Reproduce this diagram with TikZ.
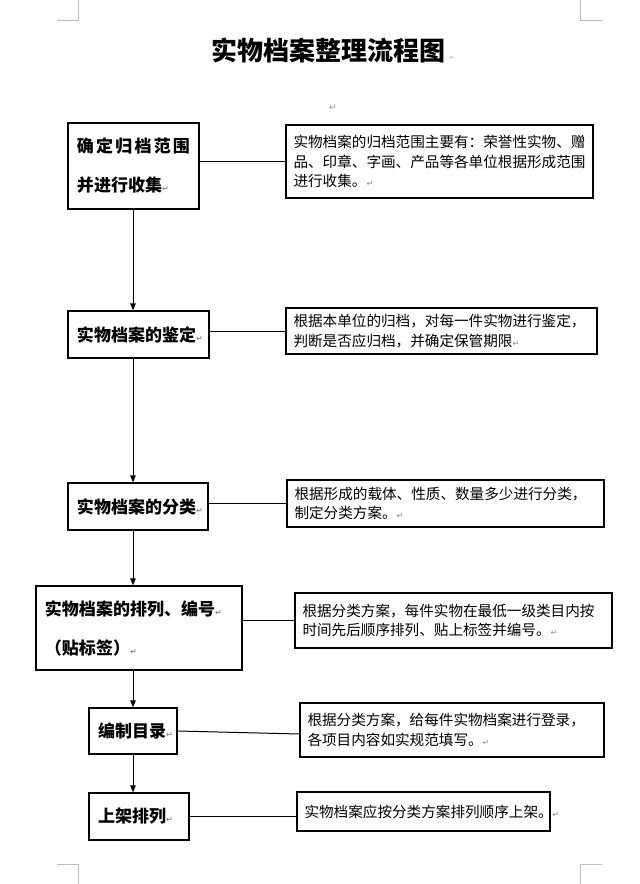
\documentclass[tikz,border=0pt]{standalone}
\usepackage{fontspec}
\newfontfamily\cjk{Noto Sans CJK SC}
\newfontfamily\djv{DejaVu Sans}
\usetikzlibrary{arrows.meta}
\definecolor{pmgray}{HTML}{8C8C8C}
\definecolor{cornergray}{HTML}{BDBDBD}
\newcommand\parmk[1][8bp]{{\djv\fontsize{#1}{#1}\selectfont\textcolor{pmgray}{↵}}}
\begin{document}
\begin{tikzpicture}[x=1bp,y=-1bp,
  lbox/.style={draw=black, line width=1.3bp, inner xsep=9bp, inner ysep=0pt, align=left,
    font=\cjk\bfseries\fontsize{17bp}{39bp}\selectfont},
  tbox/.style={draw=black, line width=1.3bp, inner xsep=7.5bp, inner ysep=0pt, align=left,
    font=\cjk\fontsize{14.6bp}{19.5bp}\selectfont},
  conn/.style={line width=1bp},
  arr/.style={line width=1bp, -{Triangle[length=7bp,width=5.5bp]}},
  corner/.style={draw=cornergray, line width=1bp}]
\useasboundingbox (0,0) rectangle (640,884);
% corner marks
\draw[corner] (57,20) -- (78,20) -- (78,0);
\draw[corner] (580,0) -- (580,20) -- (602,20);
\draw[corner] (57,864) -- (78,864) -- (78,884);
\draw[corner] (580,884) -- (580,864) -- (602,864);
% title
\node[font=\cjk\bfseries\fontsize{26bp}{26bp}\selectfont] (title) at (328,50) {实物档案整理流程图};
\node[inner sep=0pt] (tmark) at (452,58) {\parmk[5bp]};
\node[inner sep=0pt] (pm) at (333,108) {\parmk[9bp]};
% left boxes
\node[lbox, text width=113bp, minimum height=86bp] (b1) at (133.5,166)
  {确\kern2.2bp 定\kern2.2bp 归\kern2.2bp 档\kern2.2bp 范\kern2.2bp 围\\并进行收集\parmk};
\node[lbox, text width=123bp, minimum height=47bp] (b2) at (138.5,334.5) {实物档案的鉴定\parmk};
\node[lbox, text width=122bp, minimum height=47bp] (b3) at (138,506.5) {实物档案的分类\parmk};
\node[lbox, text width=188bp, minimum height=84bp] (b4) at (139,628)
  {实物档案的排列、编号\parmk\\（贴标签）\parmk};
\node[lbox, text width=70bp, minimum height=46bp] (b5) at (133,731) {编制目录\parmk};
\node[lbox, text width=82bp, minimum height=47bp] (b6) at (139,816.5) {上架排列\parmk};
% text boxes
\node[tbox, text width=292bp, minimum height=73bp] (t1) at (439.5,161.5)
  {实物档案的归档范围主要有：荣誉性实物、赠\\品、印章、字画、产品等各单位根据形成范围\\进行收集。\parmk};
\node[tbox, text width=296bp, minimum height=46bp] (t2) at (441.5,331)
  {根据本单位的归档，对每一件实物进行鉴定，\\判断是否应归档，并确定保管期限\parmk};
\node[tbox, text width=302bp, minimum height=47bp] (t3) at (445.5,503.5)
  {根据形成的载体、性质、数量多少进行分类，\\制定分类方案。\parmk};
\node[tbox, text width=302bp, minimum height=55bp] (t4) at (453.5,620.5)
  {根据分类方案，每件实物在最低一级类目内按\\时间先后顺序排列、贴上标签并编号。\parmk};
\node[tbox, text width=289bp, minimum height=54bp] (t5) at (452,730)
  {根据分类方案，给每件实物档案进行登录，\\各项目内容如实规范填写。\parmk};
\node[tbox, text width=238bp, minimum height=39bp] (t6) at (423.5,811.5)
  {实物档案应按分类方案排列顺序上架。\parmk};
% connectors
\draw[conn] (t1.west) -- (t1.west -| b1.east);
\draw[conn] (t2.west) -- (t2.west -| b2.east);
\draw[conn] (t3.west) -- (t3.west -| b3.east);
\draw[conn] (t4.west) -- (t4.west -| b4.east);
\draw[conn] (b5.east) -- ([yshift=-4bp]t5.west);
\draw[conn] (b6.east) -- (b6.east -| t6.west);
% arrows
\coordinate (ax) at (133,0);
\draw[arr] (b1.south -| ax) -- (b2.north -| ax);
\draw[arr] (b2.south -| ax) -- (b3.north -| ax);
\draw[arr] (b3.south -| ax) -- (b4.north -| ax);
\draw[arr] (b4.south -| ax) -- (b5.north -| ax);
\draw[arr] (b5.south -| ax) -- (b6.north -| ax);
\end{tikzpicture}
\end{document}
